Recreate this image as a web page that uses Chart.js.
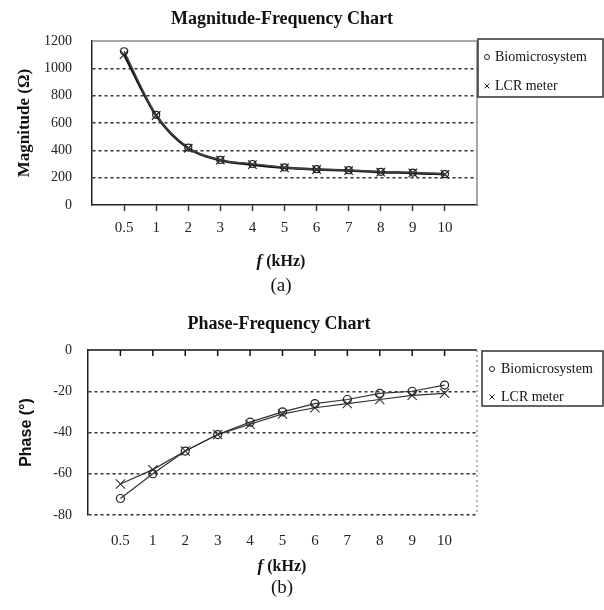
<!DOCTYPE html>
<html><head><meta charset="utf-8">
<script src="https://cdn.jsdelivr.net/npm/chart.js@4/dist/chart.umd.min.js"></script>
<style>
html,body{margin:0;padding:0;background:#fff;}
#wrap{position:relative;width:604px;height:610px;overflow:hidden;}
canvas{position:absolute;left:0;}
#c1{top:0;} #c2{top:300px;}
</style></head><body>
<div id="wrap"><canvas id="c1" width="604" height="300"></canvas><canvas id="c2" width="604" height="310"></canvas></div>
<script>
// ---- data ----
const freqLabels = ['0.5','1','2','3','4','5','6','7','8','9','10'];
const seriesNames = ['Biomicrosystem','LCR meter'];
const magBio   = [1125, 660, 420, 330, 300, 275, 262, 255, 243, 237, 226];
const magLCR   = [1100, 655, 415, 328, 295, 272, 260, 252, 240, 235, 224];
const phaseBio = [-72, -60, -49, -41, -35, -30, -26, -24, -21, -20, -17];
const phaseLCR = [-65, -58, -49, -41, -36, -31, -28, -26, -24, -22, -21];
const magTicks   = [0, 200, 400, 600, 800, 1000, 1200];
const phaseTicks = [-80, -60, -40, -20, 0];

const SERIF = "'Liberation Serif','Times New Roman',serif";
const SANS = "'Liberation Sans',Arial,sans-serif";
function pts(arr){ return arr.map((v,i)=>({x:i, y:v})); }

const captionPlugin = {
  id:'captions',
  afterDraw(chart, args, o){
    const ctx = chart.ctx, a = chart.chartArea;
    ctx.save();
    if (o.frame === 'a') {
      ctx.strokeStyle = '#8a8a8a'; ctx.lineWidth = 1.5;
      ctx.beginPath(); ctx.moveTo(a.left, a.top); ctx.lineTo(a.right, a.top); ctx.lineTo(a.right, a.bottom); ctx.stroke();
    } else {
      ctx.strokeStyle = '#111'; ctx.lineWidth = 1.5;
      ctx.beginPath(); ctx.moveTo(a.left, a.top); ctx.lineTo(a.right, a.top); ctx.stroke();
      const xs = chart.scales.x;
      freqLabels.forEach((l,i)=>{ const px = xs.getPixelForValue(i); ctx.beginPath(); ctx.moveTo(px, a.top); ctx.lineTo(px, a.top+6); ctx.stroke(); });
      ctx.strokeStyle = '#999'; ctx.lineWidth = 1.5; ctx.setLineDash([2,3]);
      ctx.beginPath(); ctx.moveTo(a.right, a.top); ctx.lineTo(a.right, a.bottom); ctx.stroke();
      ctx.setLineDash([]);
    }
    ctx.fillStyle = '#111'; ctx.textBaseline = 'middle'; ctx.textAlign = 'center';
    ctx.font = 'bold 18px ' + SERIF;
    ctx.fillText(o.title, o.titleX, o.titleY);
    // f (kHz)
    ctx.textAlign = 'left';
    const f1 = 'italic bold 17px ' + SERIF, f2 = 'bold 16px ' + SERIF;
    ctx.font = f1; const w1 = ctx.measureText('f').width;
    ctx.font = f2; const w2 = ctx.measureText(' (kHz)').width;
    const sx = o.capX - (w1 + w2) / 2;
    ctx.font = f1; ctx.fillText('f', sx, o.fY);
    ctx.font = f2; ctx.fillText(' (kHz)', sx + w1, o.fY);
    ctx.textAlign = 'center';
    ctx.font = '19px ' + SERIF; ctx.fillText(o.caption, o.capX, o.capY);
    // legend
    const [bx, by, bw, bh] = o.box;
    ctx.strokeStyle = '#333'; ctx.lineWidth = 1.5; ctx.strokeRect(bx, by, bw, bh);
    chart.data.datasets.forEach((ds, i) => {
      const y = o.rows[i];
      ctx.strokeStyle = '#222'; ctx.lineWidth = 1; ctx.fillStyle = 'rgba(0,0,0,0)';
      Chart.helpers.drawPoint(ctx, {pointStyle: ds.pointStyle, radius: ds.pointStyle === 'circle' ? 2.5 : 3.5, borderWidth: 1, rotation: 0}, o.markX, y);
      ctx.fillStyle = '#111'; ctx.textAlign = 'left'; ctx.font = '14px ' + SERIF;
      ctx.fillText(ds.label, o.textX, y);
    });
    ctx.restore();
  }
};

function xScale(height, tl, pad, withTicks){
  return {
    type:'linear', min:-1, max:11,
    afterBuildTicks: s => { s.ticks = freqLabels.map((l,i)=>({value:i})); },
    afterFit: s => { s.height = height; },
    ticks:{ callback: v => freqLabels[v], font:{family:SERIF, size:15}, color:'#222', padding:pad, maxRotation:0, autoSkip:false },
    grid: withTicks ? {drawOnChartArea:false, drawTicks:true, tickLength:tl, tickColor:'#333', tickWidth:1.5}
                    : {display:false, drawTicks:false},
    border: withTicks ? {color:'#222', width:1.5} : {display:false}
  };
}

new Chart(document.getElementById('c1'), {
  type:'line',
  data:{ datasets:[
    {label:seriesNames[0], data:pts(magBio), borderColor:'#444', borderWidth:1.5, pointStyle:'circle', pointRadius:3.5,
     pointBorderColor:'#222', pointBackgroundColor:'rgba(0,0,0,0)', pointBorderWidth:1.2, cubicInterpolationMode:'monotone'},
    {label:seriesNames[1], data:pts(magLCR), borderColor:'#111', borderWidth:2.5, pointStyle:'crossRot', pointRadius:6,
     pointBorderColor:'#222', pointBorderWidth:1.2, cubicInterpolationMode:'monotone'}
  ]},
  options:{
    responsive:false, animation:false, devicePixelRatio:1,
    layout:{padding:{left:0, right:127, top:41, bottom:0}},
    plugins:{ legend:{display:false}, tooltip:{enabled:false},
      captions:{frame:'a', title:'Magnitude-Frequency Chart', titleX:282, titleY:19, capX:281, fY:262, caption:'(a)', capY:286,
                box:[478,39,125,58], rows:[57,86], markX:487, textX:495} },
    scales:{
      x: xScale(95, 6, 8, true),
      y:{ min:0, max:1200,
        afterBuildTicks: s => { s.ticks = magTicks.map(v=>({value:v})); },
        afterFit: s => { s.width = 92; },
        ticks:{ callback: v => String(v), font:{family:SERIF, size:14}, color:'#222', padding:20 },
        grid:{ drawTicks:false, lineWidth:1.5, color: c => (c.tick && (c.tick.value===0 || c.tick.value===1200)) ? 'rgba(0,0,0,0)' : '#333' },
        border:{ color:'#222', width:1.5, dash:[3,3] },
        title:{ display:true, text:'Magnitude (Ω)', font:{family:SERIF, size:17, weight:'bold'}, color:'#111', padding:{top:14, bottom:0} }
      }
    }
  },
  plugins:[captionPlugin]
});

new Chart(document.getElementById('c2'), {
  type:'line',
  data:{ datasets:[
    {label:seriesNames[0], data:pts(phaseBio), borderColor:'#333', borderWidth:1.2, pointStyle:'circle', pointRadius:4,
     pointBorderColor:'#222', pointBackgroundColor:'rgba(0,0,0,0)', pointBorderWidth:1.2, tension:0},
    {label:seriesNames[1], data:pts(phaseLCR), borderColor:'#333', borderWidth:1.2, pointStyle:'crossRot', pointRadius:6.5,
     pointBorderColor:'#333', pointBorderWidth:1.1, tension:0}
  ]},
  options:{
    responsive:false, animation:false, devicePixelRatio:1,
    layout:{padding:{left:0, right:127, top:50, bottom:0}},
    plugins:{ legend:{display:false}, tooltip:{enabled:false},
      captions:{frame:'b', title:'Phase-Frequency Chart', titleX:279, titleY:24, capX:282, fY:267, caption:'(b)', capY:288,
                box:[482,51,121,55], rows:[69,97], markX:492, textX:501} },
    scales:{
      x: xScale(95, 0, 17, false),
      y:{ min:-80, max:0,
        afterBuildTicks: s => { s.ticks = phaseTicks.map(v=>({value:v})); },
        afterFit: s => { s.width = 88; },
        ticks:{ callback: v => String(v), font:{family:SERIF, size:14}, color:'#222', padding:16 },
        grid:{ drawTicks:false, lineWidth:1.5, color: c => (c.tick && c.tick.value===0) ? 'rgba(0,0,0,0)' : '#333' },
        border:{ color:'#222', width:1.5, dash:[3,3] },
        title:{ display:true, text:'Phase (°)', font:{family:SANS, size:16, weight:'bold'}, color:'#111', padding:{top:17, bottom:0} }
      }
    }
  },
  plugins:[captionPlugin]
});
</script>
</body></html>
